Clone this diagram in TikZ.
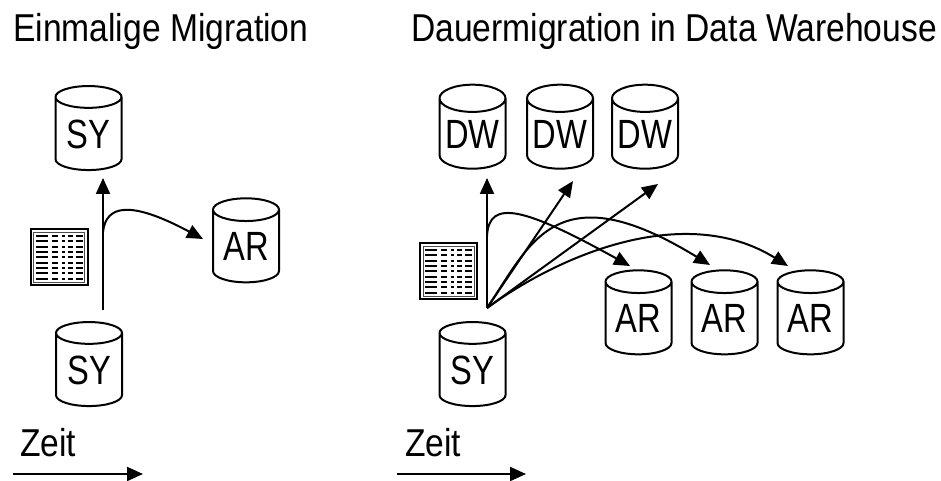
\documentclass[tikz,border=0pt]{standalone}
\usepackage{fontspec}
\setmainfont{Liberation Sans}
\newfontfamily\titlefont[FakeStretch=.865]{Liberation Sans}
\newfontfamily\labelfont[FakeStretch=.8]{Liberation Sans}
\usetikzlibrary{shapes.geometric,arrows.meta}
\tikzset{
  x=1bp,y=-1bp,
  db/.style={draw=black,line width=2bp,cylinder,shape border rotate=90,aspect=.5,
    minimum width=66bp,minimum height=84bp,inner sep=0pt,anchor=center,
    font=\labelfont\fontsize{41}{41}\selectfont},
  flow/.style={line width=2bp,-{Triangle[length=16bp,width=14bp]}},
  title/.style={anchor=base west,inner sep=0pt,font=\titlefont\fontsize{39}{39}\selectfont},
  doc/.style={draw=black,line width=2bp,fill=white,minimum width=57bp,minimum height=56bp,inner sep=0pt},
  rowline/.style={line width=1.9bp,black}
}
\newcommand{\docicon}[3]{%
  \node[doc] (#1) at (#2,#3) {};
  \draw[line width=.8bp,black!70] (#2-25.5,#3-25) rectangle (#2+25.5,#3+25);
  \foreach \r in {0,...,8}{
    \foreach \a/\b in {-23.5/-11.5,-7.5/-1.5,2.5/5.5,8.5/13.5,16.5/23.5}{
      \draw[rowline] (#2+\a,#3-21.5+\r*5.35) -- (#2+\b,#3-21.5+\r*5.35);
    }
  }
}
\begin{document}
\begin{tikzpicture}
\useasboundingbox (0,0) rectangle (941,481);
\node[title] (t1) at (13,42) {Einmalige Migration};
\node[title] (t2) at (411,42) {Dauermigration in Data Warehouse};

\node[db] (sy1) at (88.5,134) {SY};
\node[db] (sy2) at (89,370) {SY};
\node[db] (ar0) at (246,246.5) {AR};
\node[db] (dw1) at (472.5,134) {DW};
\node[db] (dw2) at (560,134) {DW};
\node[db] (dw3) at (645,134) {DW};
\node[db] (sy3) at (472.5,370) {SY};
\node[db] (ar1) at (638.5,318.5) {AR};
\node[db] (ar2) at (724.5,318.5) {AR};
\node[db] (ar3) at (810.5,318.5) {AR};

\docicon{d1}{59}{257.5}
\docicon{d2}{448.5}{271.5}

\coordinate (s1) at (103,310);
\coordinate (b1) at (103,232);
\coordinate (e1) at (103,178);
\coordinate (e2) at (203,239);
\draw[flow] (s1) -- (e1);
\draw[flow] (b1) .. controls (106,205) and (130,200) .. (e2);

\coordinate (o) at (487,308);
\coordinate (b2) at (487,236);
\coordinate (f1) at (487,178);
\coordinate (f2) at (573,181);
\coordinate (f3) at (658,184);
\coordinate (g1) at (630,266);
\coordinate (g2) at (710,265);
\coordinate (g3) at (788,266);
\draw[flow] (o) -- (f1);
\draw[flow] (o) -- (f2);
\draw[flow] (o) -- (f3);
\draw[flow] (b2) .. controls (489,198) and (525,208) .. (g1);
\draw[flow] (o) .. controls (530,245) and (555,170) .. (g2);
\draw[flow] (o) .. controls (570,248) and (690,205) .. (g3);

\node[title] (z1) at (20,456) {Zeit};
\node[title] (z2) at (405,456) {Zeit};
\coordinate (za) at (13,474);
\coordinate (zb) at (143,474);
\coordinate (zc) at (397,474);
\coordinate (zd) at (526,474);
\draw[flow] (za) -- (zb);
\draw[flow] (zc) -- (zd);
\end{tikzpicture}
\end{document}
